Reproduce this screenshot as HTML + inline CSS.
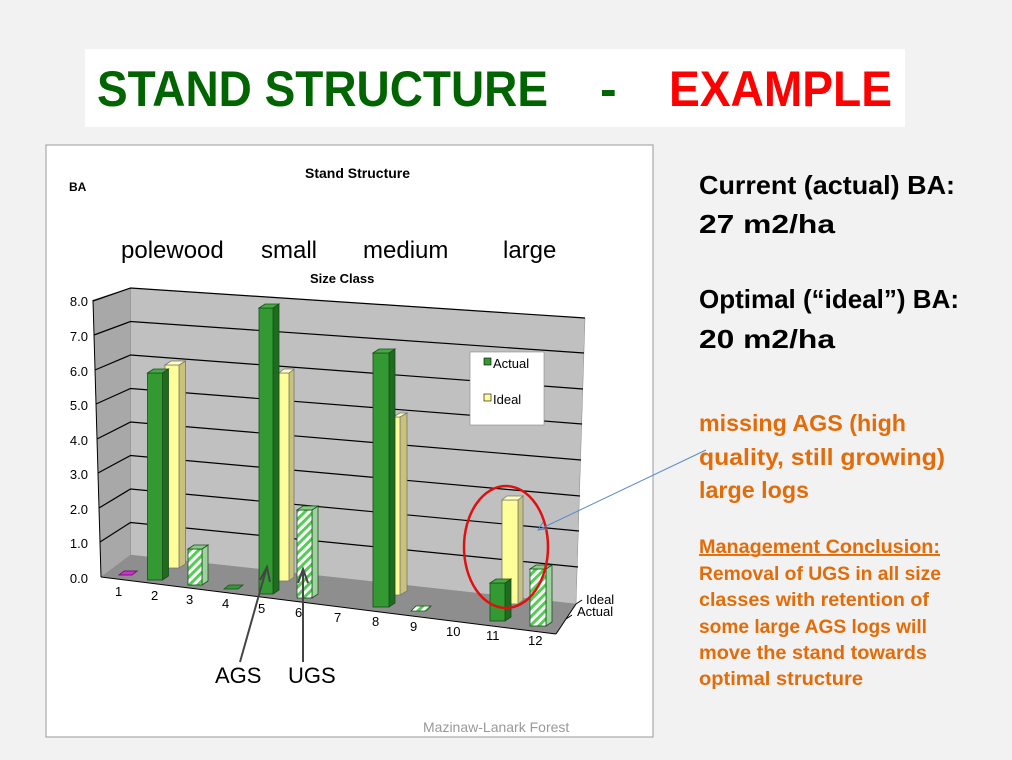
<!DOCTYPE html>
<html><head><meta charset="utf-8"><style>
html,body{margin:0;padding:0;background:#f2f2f2;}
svg{display:block;}
</style></head><body>
<svg width="1012" height="760" viewBox="0 0 1012 760" xmlns="http://www.w3.org/2000/svg" font-family="Liberation Sans, sans-serif">
<defs>
<pattern id="h" patternUnits="userSpaceOnUse" width="6" height="6" patternTransform="rotate(-45)">
<rect width="6" height="6" fill="#ffffff"/><rect width="6" height="3" fill="#55cc55"/>
</pattern>
</defs>
<rect width="1012" height="760" fill="#f2f2f2"/>
<!-- title -->
<rect x="85" y="49" width="820" height="78" fill="#fff"/>
<text x="97" y="106" font-size="50" font-weight="bold" fill="#006400" textLength="451" lengthAdjust="spacingAndGlyphs">STAND STRUCTURE</text>
<text x="600" y="106" font-size="50" font-weight="bold" fill="#006400">-</text>
<text x="669" y="106" font-size="50" font-weight="bold" fill="#ff0000" textLength="223" lengthAdjust="spacingAndGlyphs">EXAMPLE</text>
<!-- chart box -->
<rect x="46" y="145" width="607" height="592" fill="#fff" stroke="#999" stroke-width="1"/>
<text x="305" y="178" font-size="14" font-weight="bold" fill="#000">Stand Structure</text>
<text x="69" y="191" font-size="12" font-weight="bold">BA</text>
<text x="121" y="258" font-size="24" fill="#000">polewood</text>
<text x="261" y="258" font-size="24">small</text>
<text x="363" y="258" font-size="24">medium</text>
<text x="503" y="258" font-size="24">large</text>
<text x="310" y="283" font-size="13" font-weight="bold">Size Class</text>
<!-- walls -->
<polygon points="93,300 130.5,288 130.5,555 101,577" fill="#a8a8a8" stroke="#888" stroke-width="0.5"/>
<polygon points="130.5,288 585,318 576,604 130.5,555" fill="#c0c0c0" stroke="#888" stroke-width="0.5"/>
<polygon points="101,577 130.5,555 576,604 556,634" fill="#8e8e8e"/>
<g stroke="#000" stroke-width="1.2" fill="none">
<polyline points="93,301 130.5,288 585,318"/>
<polyline points="94,335 130.5,321.5 584,353"/>
<polyline points="95,370 130.5,355 583,389"/>
<polyline points="96,404 130.5,388.5 582,424"/>
<polyline points="97,439 130.5,422 581,460"/>
<polyline points="98,473 130.5,455.5 580,496"/>
<polyline points="99,508 130.5,489 579,531"/>
<polyline points="100,542 130.5,522.5 578,567"/>
</g>
<line x1="93" y1="300" x2="101" y2="577" stroke="#000" stroke-width="1"/>
<line x1="101" y1="577" x2="556" y2="634" stroke="#000" stroke-width="1"/>
<line x1="556" y1="634" x2="576" y2="604" stroke="#000" stroke-width="1"/>
<g font-size="13" fill="#000" text-anchor="end">
<text x="88" y="306">8.0</text><text x="88" y="341">7.0</text><text x="88" y="376">6.0</text>
<text x="88" y="410">5.0</text><text x="88" y="445">4.0</text><text x="88" y="479">3.0</text>
<text x="88" y="514">2.0</text><text x="88" y="548">1.0</text><text x="88" y="583">0.0</text>
</g>
<g font-size="13" fill="#000">
<text x="115" y="596">1</text><text x="151" y="600">2</text><text x="186" y="604">3</text>
<text x="222" y="608">4</text><text x="258" y="613">5</text><text x="295" y="617">6</text>
<text x="334" y="622">7</text><text x="372" y="626">8</text><text x="410" y="631">9</text>
<text x="446" y="636">10</text><text x="486" y="640">11</text><text x="528" y="645">12</text>
<text x="586" y="604">Ideal</text><text x="577" y="616">Actual</text>
</g>
<g stroke="#000" stroke-width="1">
<line x1="576" y1="604" x2="582" y2="600"/><line x1="566" y1="619" x2="572" y2="615"/>
</g>
<!-- bars -->
<g stroke="#1a4d1a" stroke-width="0.8">
<!-- bar1 magenta flat -->
<polygon points="119,575 124,571 137,571 132,575" fill="#cc33cc" stroke="#660066"/>
<!-- bar2 ideal -->
<polygon points="179,365 185.5,361 185.5,564 179,568" fill="#c8c27a" stroke="#777"/>
<rect x="165" y="365" width="14" height="203" fill="#ffff99" stroke="#777"/>
<polygon points="165,365 171,361 185.5,361 179,365" fill="#ffffbb" stroke="#777"/>
<!-- bar2 actual -->
<polygon points="162.5,373 168.5,369 168.5,576 162.5,580" fill="#1f6b1f"/>
<rect x="147.5" y="373" width="15" height="207" fill="#339933"/>
<polygon points="147.5,373 153.5,369 168.5,369 162.5,373" fill="#44aa44"/>
<!-- bar3 ugs -->
<polygon points="202,549 208,545 208,581 202,585" fill="#9dd39d"/>
<rect x="188" y="549" width="14" height="36" fill="url(#h)"/>
<polygon points="188,549 194,545 208,545 202,549" fill="#88cc88"/>
<!-- bar4 flat -->
<polygon points="224,589 229,585 243,585 238,589" fill="#339933"/>
<!-- bar5 ideal -->
<polygon points="289,373 294,369 294,577 289,581" fill="#c8c27a" stroke="#777"/>
<rect x="279" y="373" width="10" height="208" fill="#ffff99" stroke="#777"/>
<polygon points="279,373 284,369 294,369 289,373" fill="#ffffbb" stroke="#777"/>
<!-- bar5 actual -->
<polygon points="273,308 279,304 279,590 273,594" fill="#1f6b1f"/>
<rect x="259" y="308" width="14" height="286" fill="#339933"/>
<polygon points="259,308 265,304 279,304 273,308" fill="#44aa44"/>
<!-- bar6 ugs -->
<polygon points="312,510 318,506 318,594 312,598" fill="#9dd39d"/>
<rect x="297" y="510" width="15" height="88" fill="url(#h)"/>
<polygon points="297,510 303,506 318,506 312,510" fill="#88cc88"/>
<!-- bar8 ideal -->
<polygon points="400,417 407,413 407,591 400,595" fill="#c8c27a" stroke="#777"/>
<rect x="393" y="417" width="7" height="178" fill="#ffff99" stroke="#777"/>
<polygon points="393,417 400,413 407,413 400,417" fill="#ffffbb" stroke="#777"/>
<!-- bar8 actual -->
<polygon points="389,353 395,349 395,603 389,607" fill="#1f6b1f"/>
<rect x="373" y="353" width="16" height="254" fill="#339933"/>
<polygon points="373,353 379,349 395,349 389,353" fill="#44aa44"/>
<!-- bar9 flat -->
<polygon points="411,611 416,606 431,606 426,611" fill="url(#h)"/>
<!-- bar11 ideal -->
<polygon points="518,500 523,496 523,600 518,604" fill="#c8c27a" stroke="#777"/>
<rect x="502" y="500" width="16" height="104" fill="#ffff99" stroke="#777"/>
<polygon points="502,500 507,496 523,496 518,500" fill="#ffffbb" stroke="#777"/>
<!-- bar11 actual -->
<polygon points="505,583 511,579 511,617 505,621" fill="#1f6b1f"/>
<rect x="490" y="583" width="15" height="38" fill="#339933"/>
<polygon points="490,583 496,579 511,579 505,583" fill="#44aa44"/>
<!-- bar12 ugs -->
<polygon points="546,569 552,565 552,622 546,626" fill="#9dd39d"/>
<rect x="530" y="569" width="16" height="57" fill="url(#h)"/>
<polygon points="530,569 536,565 552,565 546,569" fill="#88cc88"/>
</g>
<!-- legend -->
<rect x="470" y="352" width="74" height="73" fill="#fff" stroke="#888" stroke-width="0.6"/>
<rect x="484" y="358" width="7" height="7" fill="#339933" stroke="#000" stroke-width="0.6"/>
<text x="493" y="368" font-size="13">Actual</text>
<rect x="484" y="394" width="7" height="7" fill="#ffff99" stroke="#000" stroke-width="0.6"/>
<text x="493" y="404" font-size="13">Ideal</text>
<!-- red ellipse -->
<ellipse cx="506" cy="547" rx="42" ry="61" fill="none" stroke="#e01010" stroke-width="2.5"/>
<!-- arrows -->
<g stroke="#444" stroke-width="2" fill="none">
<line x1="240" y1="662" x2="266" y2="570"/><polyline points="260,580 267,567 270,582"/>
<line x1="303" y1="662" x2="303" y2="572"/><polyline points="298,583 303,569 308,583"/>
</g>
<text x="215" y="683" font-size="22">AGS</text>
<text x="288" y="683" font-size="22">UGS</text>
<g stroke="#5b8bc9" stroke-width="1" fill="none">
<line x1="706" y1="450" x2="538" y2="530"/><polyline points="543,522 538,530 547,529"/>
</g>
<text x="423" y="732" font-size="14" fill="#999">Mazinaw-Lanark Forest</text>
<!-- right text -->
<g font-weight="bold" fill="#000" font-size="26">
<text x="699" y="194" textLength="256" lengthAdjust="spacingAndGlyphs">Current (actual) BA:</text>
<text x="699" y="233" textLength="136" lengthAdjust="spacingAndGlyphs">27 m2/ha</text>
<text x="699" y="308" textLength="260" lengthAdjust="spacingAndGlyphs">Optimal (“ideal”) BA:</text>
<text x="699" y="348" textLength="136" lengthAdjust="spacingAndGlyphs">20 m2/ha</text>
</g>
<g font-weight="bold" fill="#e36c09">
<text x="699" y="431" font-size="23" textLength="207" lengthAdjust="spacingAndGlyphs">missing AGS (high</text>
<text x="699" y="465" font-size="23" textLength="246" lengthAdjust="spacingAndGlyphs">quality, still growing)</text>
<text x="699" y="498" font-size="23" textLength="110" lengthAdjust="spacingAndGlyphs">large logs</text>
<text x="699" y="553" font-size="19" text-decoration="underline" textLength="241" lengthAdjust="spacingAndGlyphs">Management Conclusion:</text>
<line x1="699" y1="555" x2="940" y2="555" stroke="#e36c09" stroke-width="1.3"/>
<text x="699" y="580" font-size="19" textLength="242" lengthAdjust="spacingAndGlyphs">Removal of UGS in all size</text>
<text x="699" y="606" font-size="19" textLength="230" lengthAdjust="spacingAndGlyphs">classes with retention of</text>
<text x="699" y="633" font-size="19" textLength="228" lengthAdjust="spacingAndGlyphs">some large AGS logs will</text>
<text x="699" y="659" font-size="19" textLength="228" lengthAdjust="spacingAndGlyphs">move the stand towards</text>
<text x="699" y="685" font-size="19" textLength="164" lengthAdjust="spacingAndGlyphs">optimal structure</text>
</g>
</svg>
</body></html>
